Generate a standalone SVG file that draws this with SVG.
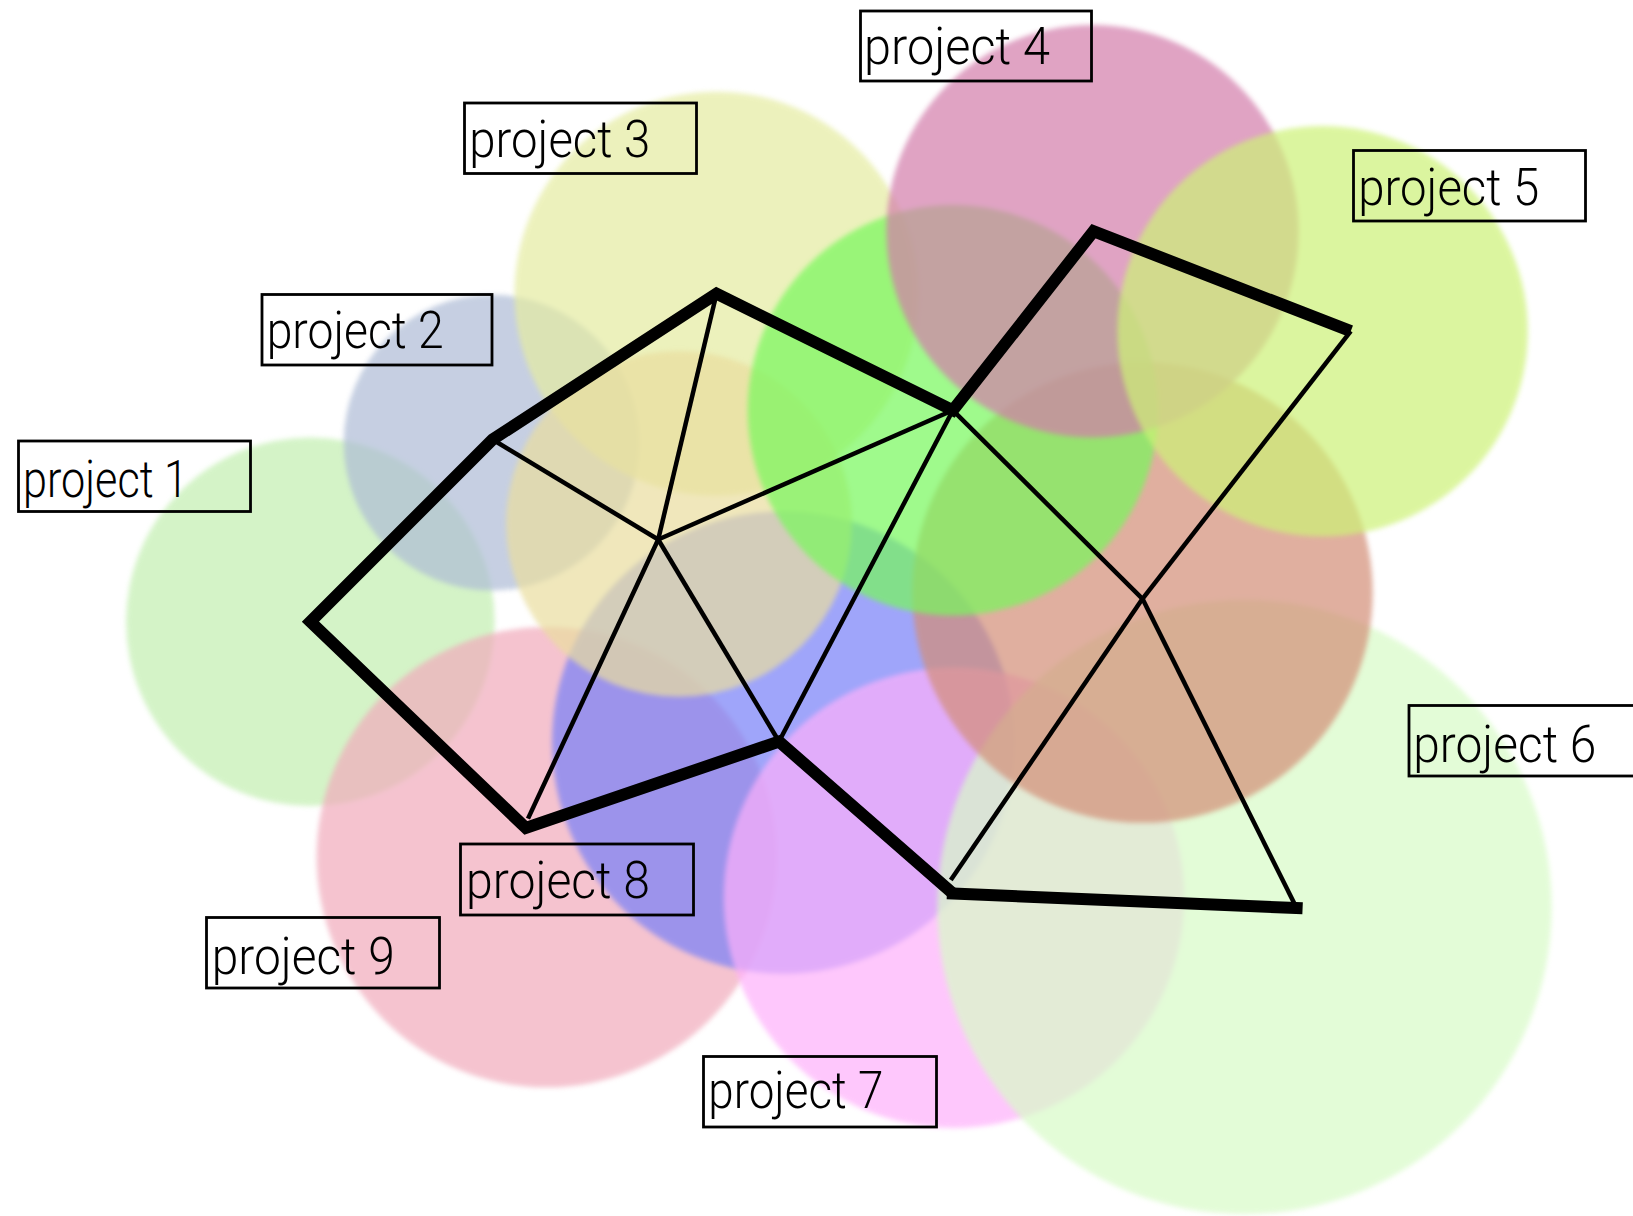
<svg xmlns="http://www.w3.org/2000/svg" width="1633" height="1216" viewBox="0 0 1633 1216">
<defs>
<filter id="soft" x="-10%" y="-10%" width="120%" height="120%"><feGaussianBlur stdDeviation="2.5"/></filter>
<style>
.c{filter:url(#soft);opacity:0.7}
.box{fill:none;stroke:#000;stroke-width:2.8}
.lbl{font-family:Roboto,"Liberation Sans",sans-serif;font-weight:300;font-size:52px;fill:#000}
.thick{fill:none;stroke:#000;stroke-width:12;stroke-linejoin:miter;stroke-miterlimit:10}
.thin{fill:none;stroke:#000;stroke-width:4.5}
</style>
</defs>
<rect width="1633" height="1216" fill="#fff"/>
<g id="circles">
<circle id="c1" class="c" cx="310.4" cy="621.7" r="184.3" fill="rgb(194,239,176)"/>
<circle id="c2" class="c" cx="491.6" cy="442.6" r="147.9" fill="rgb(174,188,214)"/>
<circle id="c3" class="c" cx="716.5" cy="293.7" r="202" fill="rgb(229,236,161)"/>
<circle id="c9" class="c" cx="546.8" cy="857.1" r="230.2" fill="rgb(241,171,188)"/>
<circle id="c8" class="c" cx="783.2" cy="742.5" r="231.2" fill="rgb(119,128,248)"/>
<circle id="cL" class="c" cx="679" cy="523.9" r="172.9" fill="rgb(234,222,159)"/>
<circle id="c7" class="c" cx="954" cy="897.7" r="230.2" fill="rgb(254,176,251)"/>
<circle id="c6" class="c" cx="1244.5" cy="907.1" r="307.2" fill="rgb(216,251,199)"/>
<circle id="cG" class="c" cx="1142.5" cy="592.6" r="230.2" fill="rgb(211,142,119)"/>
<circle id="cD" class="c" cx="952.9" cy="410.3" r="205.2" fill="rgb(119,248,91)"/>
<circle id="c4" class="c" cx="1092.5" cy="231.2" r="206.2" fill="rgb(211,125,171)"/>
<circle id="c5" class="c" cx="1322.6" cy="331.2" r="205.2" fill="rgb(205,242,119)"/>
</g>
<g id="connectors">
<line class="thin" x1="1350.8" y1="331.2" x2="1142.5" y2="598.8"/>
<line class="thin" x1="1142.5" y1="598.8" x2="1296.6" y2="908.1"/>
<line class="thin" x1="1142.5" y1="598.8" x2="950.8" y2="880"/>
<line class="thin" x1="952.9" y1="410.3" x2="1142.5" y2="598.8"/>
<line class="thin" x1="952.9" y1="410.3" x2="779" y2="741.5"/>
<line class="thin" x1="492.6" y1="439.5" x2="658.2" y2="539.5"/>
<line class="thin" x1="716.5" y1="293.7" x2="658.2" y2="539.5"/>
<line class="thin" x1="952.9" y1="410.3" x2="658.2" y2="539.5"/>
<line class="thin" x1="658.2" y1="539.5" x2="779" y2="741.5"/>
<line class="thin" x1="658.2" y1="539.5" x2="528" y2="818.6"/>
<path class="thick" d="M1350.8,331.2 L1093.5,231.2 L952.9,410.3 L716.5,293.7 L492.6,439.5 L310.4,621.7 L525.9,828 L779,741.5 L952.9,893.6"/>
<line class="thick" stroke-width="10" stroke-linecap="square" x1="952.9" y1="893.6" x2="1296.6" y2="908.1"/>
</g>
<g id="n1"><rect class="box" x="18.5" y="441" width="232" height="70.5"/><text class="lbl" x="23" y="497.3" textLength="165" lengthAdjust="spacingAndGlyphs">project 1</text></g>
<g id="n2"><rect class="box" x="262" y="294.5" width="230" height="70.5"/><text class="lbl" x="266.7" y="348.3" textLength="177" lengthAdjust="spacingAndGlyphs">project 2</text></g>
<g id="n3"><rect class="box" x="464.5" y="103" width="232" height="70.5"/><text class="lbl" x="469.3" y="157.3" textLength="181" lengthAdjust="spacingAndGlyphs">project 3</text></g>
<g id="n4"><rect class="box" x="860.5" y="11" width="231" height="70"/><text class="lbl" x="864" y="63.5" textLength="186" lengthAdjust="spacingAndGlyphs">project 4</text></g>
<g id="n5"><rect class="box" x="1353.5" y="150.5" width="232" height="70.5"/><text class="lbl" x="1358.3" y="205" textLength="181" lengthAdjust="spacingAndGlyphs">project 5</text></g>
<g id="n6"><rect class="box" x="1409" y="705.5" width="232" height="70.5"/><text class="lbl" x="1413.3" y="761.7" textLength="183" lengthAdjust="spacingAndGlyphs">project 6</text></g>
<g id="n7"><rect class="box" x="703.5" y="1056.5" width="233" height="70.5"/><text class="lbl" x="708.3" y="1107.5" textLength="175" lengthAdjust="spacingAndGlyphs">project 7</text></g>
<g id="n8"><rect class="box" x="460.5" y="844" width="233" height="71"/><text class="lbl" x="466" y="898.3" textLength="184" lengthAdjust="spacingAndGlyphs">project 8</text></g>
<g id="n9"><rect class="box" x="206.5" y="917.5" width="233" height="70.5"/><text class="lbl" x="211.7" y="974" textLength="183" lengthAdjust="spacingAndGlyphs">project 9</text></g>
</svg>
